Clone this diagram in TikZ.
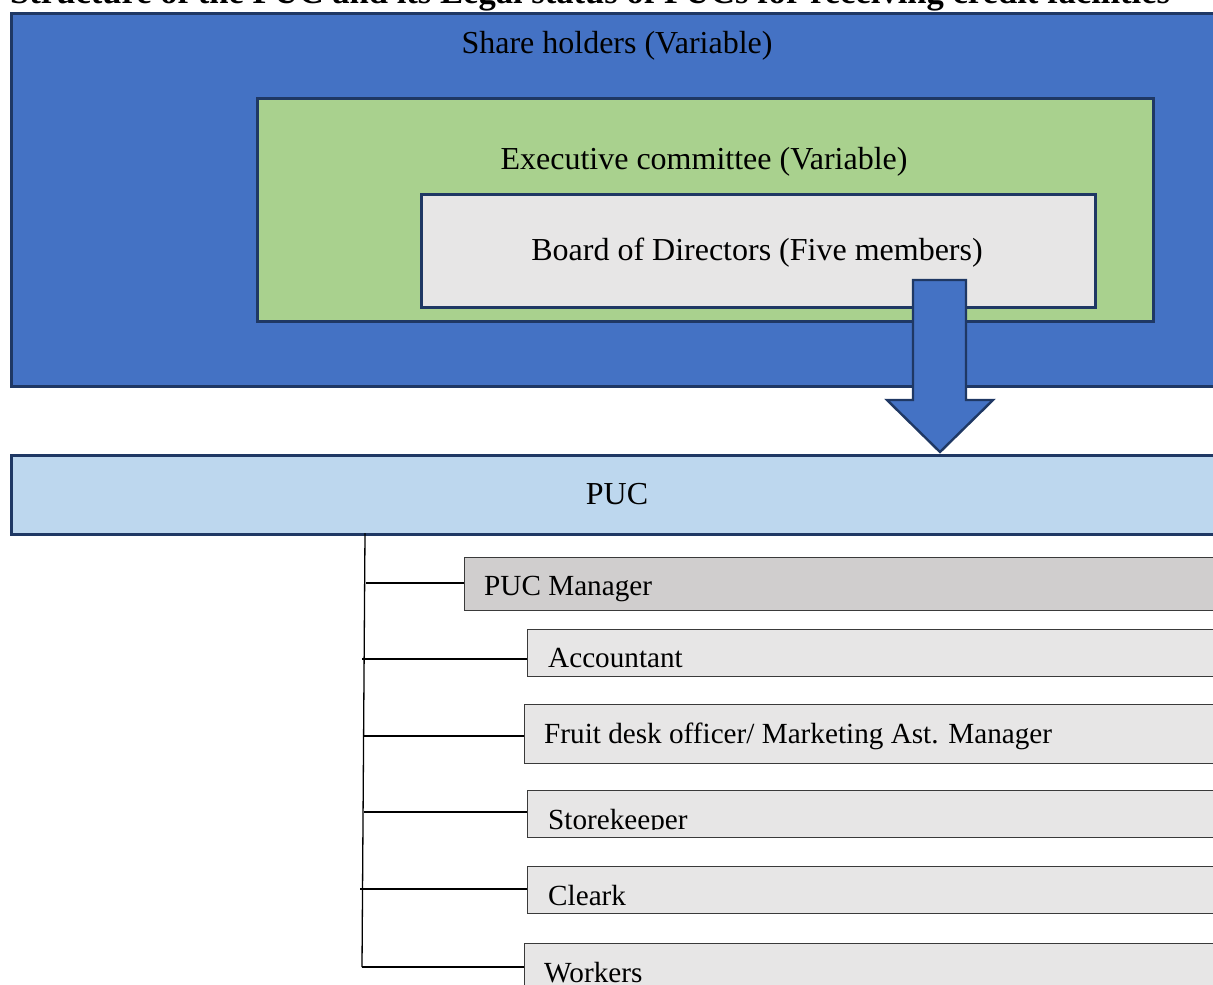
\documentclass[tikz,border=0pt]{standalone}
\usepackage{fontspec}
\setmainfont{Liberation Serif}
\definecolor{shblue}{HTML}{4472C4}
\definecolor{navy}{HTML}{1F3864}
\definecolor{exgreen}{HTML}{A9D18E}
\definecolor{bdgray}{HTML}{E7E6E6}
\definecolor{pucblue}{HTML}{BDD7EE}
\definecolor{mgrgray}{HTML}{D0CECE}
\definecolor{edgegray}{HTML}{3A3A3A}
\tikzset{
  topbox/.style={draw=navy, line width=2.6pt, inner sep=0pt, anchor=north west},
  lowbox/.style={draw=edgegray, line width=1.4pt, fill=bdgray, inner sep=0pt, anchor=north west},
  bigtxt/.style={font=\fontsize{32}{37}\selectfont, inner sep=0pt, anchor=base},
  smalltxt/.style={font=\fontsize{29.2}{34}\selectfont, inner sep=0pt, anchor=base west},
  conn/.style={line width=1.3pt, black}
}
\begin{document}
\begin{tikzpicture}[x=1pt,y=-1pt]
\clip (0,0) rectangle (1213,985);
% title (cut off)
\node[font=\bfseries\fontsize{34.6}{40}\selectfont, inner sep=0pt, anchor=base west] (title) at (10,3) {Structure of the PUC and its Legal status of PUCs for receiving credit facilities};
% nested boxes
\node[topbox, fill=shblue, minimum width=1230pt, minimum height=373pt] (share) at (10,12) {};
\node[topbox, fill=exgreen, minimum width=896pt, minimum height=223pt] (exec) at (256,97) {};
\node[topbox, fill=bdgray, minimum width=674pt, minimum height=113pt] (board) at (420,193) {};
\node[bigtxt] (sharet) at (617,53) {Share holders (Variable)};
\node[bigtxt] (exect) at (704,169) {Executive committee (Variable)};
\node[bigtxt] (boardt) at (757,260) {Board of Directors (Five members)};
% PUC
\node[topbox, fill=pucblue, minimum width=1230pt, minimum height=79pt] (puc) at (10,454) {};
\node[bigtxt] (puct) at (617,504) {PUC};
% arrow
\draw[draw=navy, line width=2.4pt, fill=shblue, line join=miter]
  (913,280) -- (966,280) -- (966,400) -- (993,400) -- (940,452) -- (887,400) -- (913,400) -- cycle;
% lower boxes
\node[lowbox, fill=mgrgray, minimum width=780pt, minimum height=53pt] (mgr) at (464,557) {};
\node[lowbox, minimum width=720pt, minimum height=47pt] (acc) at (527,629) {};
\node[lowbox, minimum width=720pt, minimum height=59pt] (fruit) at (524,704) {};
\node[lowbox, minimum width=720pt, minimum height=47pt] (store) at (527,790) {};
\node[lowbox, minimum width=720pt, minimum height=47pt] (clerk) at (527,866) {};
\node[lowbox, minimum width=720pt, minimum height=60pt] (work) at (524,943) {};
\node[smalltxt] (mgrt) at (484,595) {PUC Manager};
\node[smalltxt] (acct) at (548,667) {Accountant};
\node[smalltxt] (fruitt) at (544,743) {Fruit desk officer/ Marketing Ast. Manager};
\begin{scope}
\clip (527,790) rectangle (1213,829.5);
\node[smalltxt] (storet) at (548,829) {Storekeeper};
\end{scope}
\node[smalltxt] (clerkt) at (548,905) {Cleark};
\node[smalltxt] (workt) at (544,982) {Workers};
% connectors
\coordinate (sptop) at (365,533);
\coordinate (spbot) at (362,967);
\draw[conn] (sptop) -- (spbot);
\draw[conn] (366,583) -- (mgr.west |- 0,583);
\draw[conn] (362,659) -- (acc.west |- 0,659);
\draw[conn] (364,736) -- (fruit.west |- 0,736);
\draw[conn] (364,812) -- (store.west |- 0,812);
\draw[conn] (360,889) -- (clerk.west |- 0,889);
\draw[conn] (spbot) -- (work.west |- 0,967);
\end{tikzpicture}
\end{document}
